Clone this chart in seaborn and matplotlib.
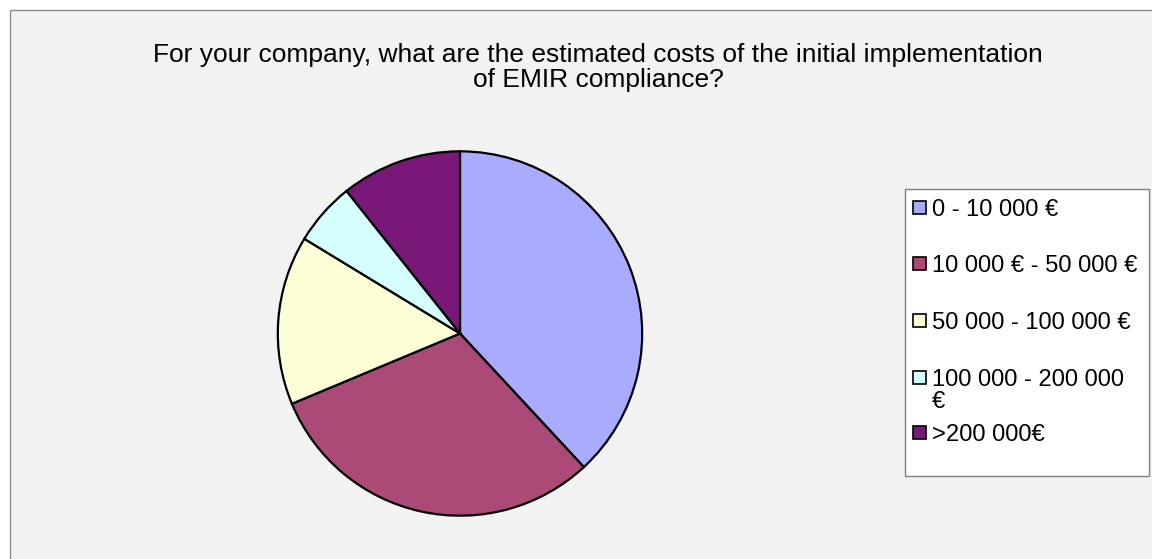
import matplotlib
matplotlib.use("Agg")
import matplotlib.pyplot as plt
from matplotlib.patches import Rectangle
import seaborn as sns

sns.set_theme(style="white")
plt.rcParams["font.family"] = ["Liberation Sans", "DejaVu Sans"]

# Survey answers (share of respondents, %)
categories = ["0 - 10 000 €", "10 000 € - 50 000 €", "50 000 - 100 000 €",
              "100 000 - 200 000\n€", ">200 000€"]
shares = [38.1, 30.6, 15.0, 5.6, 10.7]
colors = ["#A9ABFF", "#AB4A77", "#FFFFD7", "#D5FFFF", "#7A1877"]
title_lines = ["For your company, what are the estimated costs of the initial implementation",
               "of EMIR compliance?"]

W, H = 1152, 559
fig = plt.figure(figsize=(W / 100, H / 100), dpi=100, facecolor="white")

# Chart area panel
fig.patches.append(Rectangle((10 / W, -0.01), 1.02, (H - 10) / H + 0.01,
                             transform=fig.transFigure, facecolor="#F2F2F2",
                             edgecolor="#8C8C8C", linewidth=1.0, zorder=-2))

for line, base in zip(title_lines, [62, 87]):
    fig.text(598 / W, 1 - base / H, line, ha="center", va="baseline",
             fontsize=19, color="black")

# Pie
cx, cy, r = 460, 333.5, 184
ax = fig.add_axes([(cx - r) / W, (H - cy - r) / H, 2 * r / W, 2 * r / H])
ax.set_zorder(5)
ax.patch.set_alpha(0)
wedges, _ = ax.pie(shares, colors=colors, startangle=90, counterclock=False,
                   wedgeprops=dict(edgecolor="black", linewidth=1.6),
                   radius=1.0)
ax.set_xlim(-1.01, 1.01)
ax.set_ylim(-1.01, 1.01)
ax.set_aspect("equal")
ax.axis("off")

# Legend box
lx0, ly0, lx1, ly1 = 905, 189, 1149, 476
fig.patches.append(Rectangle((lx0 / W, 1 - ly1 / H), (lx1 - lx0) / W, (ly1 - ly0) / H,
                             transform=fig.transFigure, facecolor="white",
                             edgecolor="#808080", linewidth=1.0, zorder=-1))
row_base = [216, 272, 329, 386, 441]
for wedge, label, base in zip(wedges, categories, row_base):
    fig.patches.append(Rectangle((913 / W, 1 - (base - 2) / H), 13 / W, 13 / H,
                                 transform=fig.transFigure,
                                 facecolor=wedge.get_facecolor(),
                                 edgecolor="black", linewidth=1.2, zorder=0))
    for k, part in enumerate(label.split("\n")):
        fig.text(932 / W, 1 - (base + 22 * k) / H, part, ha="left", va="baseline",
                 fontsize=17.1, color="black")

fig.savefig("out.png", dpi=100, facecolor=fig.get_facecolor())
